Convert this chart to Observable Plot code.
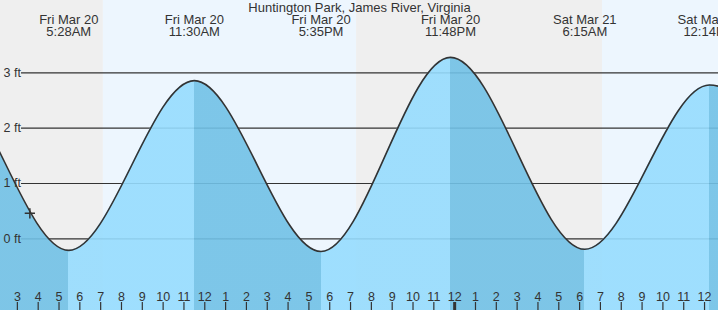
<!DOCTYPE html>
<html><head><meta charset="utf-8">
<script src="https://cdn.jsdelivr.net/npm/d3@7"></script>
<script src="https://cdn.jsdelivr.net/npm/@observablehq/plot@0.6"></script>
<style>html,body{margin:0;padding:0;overflow:hidden;background:#fff}</style>
</head><body><div id="chart"></div>
<script>
// Tide extremes: hours since Fri Mar 20 00:00, heights in feet
const tideHours = [-6.8, -0.65, 5.467, 11.5, 17.583, 23.8, 30.25, 36.233, 42.6];
const tideFeet  = [-0.2, 2.95, -0.21, 2.86, -0.23, 3.28, -0.19, 2.78, -0.2];

// Extreme labels shown at the top
const labelHours = [5.467, 11.5, 17.583, 23.8, 30.25, 36.233];
const labelDays  = ["Fri Mar 20", "Fri Mar 20", "Fri Mar 20", "Fri Mar 20", "Sat Mar 21", "Sat Mar 21"];
const labelTimes = ["5:28AM", "11:30AM", "5:35PM", "11:48PM", "6:15AM", "12:14PM"];

// Day / night bands (sunrise / sunset)
const bandStart = [-12, 7.13, 19.29, 31.1];
const bandEnd   = [7.13, 19.29, 31.1, 48];
const bandKind  = ["night", "day", "night", "day"];

// Hour ticks
const hourTicks  = [3,4,5,6,7,8,9,10,11,12,13,14,15,16,17,18,19,20,21,22,23,24,25,26,27,28,29,30,31,32,33,34,35,36];
const hourLabels = ["3","4","5","6","7","8","9","10","11","12","1","2","3","4","5","6","7","8","9","10","11","12","1","2","3","4","5","6","7","8","9","10","11","12"];

// Height grid
const gridFeet   = [0, 1, 2, 3];
const gridLabels = ["0 ft", "1 ft", "2 ft", "3 ft"];

// Current position marker
const nowHour = 3.6;
const nowFeet = 0.46;

const title = "Huntington Park, James River, Virginia";

const W = 718, H = 310;
const xDomain = [2.19, 36.67];
const yDomain = [-1.297, 4.309];
const riseColor = "#96dcfe";
const fallColor = "#71c1e6";

const rows = tideHours.map((h, i) => ({hour: h, feet: tideFeet[i]}));
const bands = bandStart.map((s, i) => ({start: s, end: bandEnd[i], kind: bandKind[i]}));
const labels = labelHours.map((h, i) => ({hour: h, text: labelDays[i] + "\n" + labelTimes[i]}));
const ticks = hourTicks.map((h, i) => ({hour: h, label: hourLabels[i]}));

const plot = Plot.plot({
  width: W, height: H, margin: 0,
  x: {domain: xDomain, axis: null},
  y: {domain: yDomain, axis: null},
  color: {domain: ["night", "day"], range: ["#efefef", "#edf6fe"]},
  style: {fontFamily: "'Liberation Sans', Arial, sans-serif", overflow: "hidden", background: "#fff"},
  marks: [
    Plot.rect(bands, {x1: "start", x2: "end", fill: "kind", clip: true}),
    Plot.ruleY(gridFeet, {y: d => d, stroke: "#333", strokeWidth: 1.2, insetLeft: 21}),
    Plot.areaY(rows, {x: "hour", y1: yDomain[0], y2: "feet", curve: "monotone-x", fill: "url(#tideFill)", fillOpacity: 0.9, clip: true}),
    Plot.line(rows, {x: "hour", y: "feet", curve: "monotone-x", stroke: "#333", strokeWidth: 1.6, clip: true}),
    Plot.text(gridFeet, {y: d => d, text: gridLabels, frameAnchor: "left", textAnchor: "start", dx: 3, fontSize: 12.5, fill: "#333"}),
    Plot.dot([{hour: nowHour, feet: nowFeet}], {x: "hour", y: "feet", symbol: "plus", r: 3.4, stroke: "#333", strokeWidth: 1.5}),
    Plot.text(labels, {x: "hour", text: "text", frameAnchor: "top", lineAnchor: "top", dy: 15, lineHeight: 0.93, fontSize: 13, fill: "#333"}),
    Plot.text([title], {text: d => d, frameAnchor: "top", lineAnchor: "top", dy: 2, fontSize: 13, fill: "#333"}),
    Plot.text(ticks, {x: "hour", text: "label", frameAnchor: "bottom", lineAnchor: "bottom", dy: -10, fontSize: 12.5, fill: "#333"}),
    Plot.ruleX(ticks, {x: "hour", insetTop: 302, stroke: "#333", strokeWidth: d => d.hour === 24 ? 3 : 1.2})
  ]
});

// Rising / falling fill gradient, positioned with the x scale
const xs = plot.scale("x");
const defs = d3.select(plot).insert("defs", ":first-child");
const grad = defs.append("linearGradient")
  .attr("id", "tideFill")
  .attr("gradientUnits", "userSpaceOnUse")
  .attr("x1", 0).attr("x2", W).attr("y1", 0).attr("y2", 0);
const clamp = v => Math.max(0, Math.min(1, v));
for (let i = 0; i < tideHours.length - 1; i++) {
  const c = tideFeet[i + 1] > tideFeet[i] ? riseColor : fallColor;
  const a = clamp(xs.apply(tideHours[i]) / W);
  const b = clamp(xs.apply(tideHours[i + 1]) / W);
  grad.append("stop").attr("offset", a).attr("stop-color", c);
  grad.append("stop").attr("offset", b).attr("stop-color", c);
}

document.getElementById("chart").appendChild(plot);
</script>
</body></html>
